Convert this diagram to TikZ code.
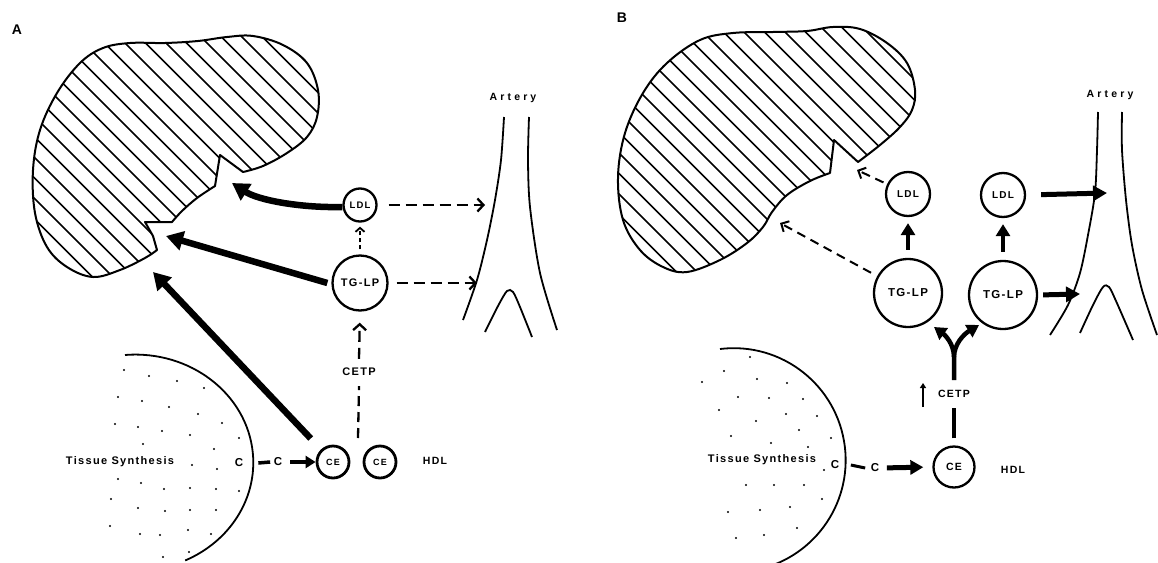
\documentclass[tikz,border=0pt]{standalone}
\usepackage{fontspec}
\usetikzlibrary{arrows.meta}
\newfontfamily\lblfont[LetterSpace=12]{Liberation Sans}
\newfontfamily\wideFont[LetterSpace=30]{Liberation Sans}
\newcommand\sz[1]{\fontsize{#1}{#1}\selectfont}

% outlines of the two livers (pixel-like units, y pointing down)
\def\liverApath{(243,172) -- (220,155) -- (215,186) -- plot[smooth,tension=0.6] coordinates {(215,186) (197,198) (182,211) (172,222)} -- (145,222) -- (153,236) -- (157,250) -- plot[smooth,tension=0.6] coordinates {(157,250) (145,258) (120,270) (93,277) (67,267) (47,247) (35,213) (33,170) (40,130) (57,93) (80,63) (103,48) (130,43) (165,43) (198,41) (227,37) (253,36) (283,45) (307,63) (318,90) (317,117) (307,137) (287,153) (263,166) (243,172)} -- cycle}
\def\liverBpath{(858,162) -- (834,140) -- (830,173) -- plot[smooth,tension=0.6] coordinates {(830,173) (810,181) (787,195) (772,212) (763,227) (747,243) (720,260) (687,272) (663,267) (640,250) (623,220) (618,177) (625,133) (643,93) (667,63) (700,40) (733,33) (773,32) (807,31) (833,27) (860,29) (887,43) (907,63) (915,90) (912,110) (900,127) (880,145) (858,162)} -- cycle}

\begin{document}
\begin{tikzpicture}[x=1pt, y=-1pt,
  txt/.style={inner sep=0pt, font={\lblfont\bfseries\sz{10.5}}},
  panel/.style={inner sep=0pt, font={\lblfont\bfseries\sz{14}}},
  vesseltxt/.style={inner sep=0pt, font={\wideFont\bfseries\sz{10.5}}},
  organ/.style={line width=2pt, line join=round},
  hatch/.style={line width=1.5pt},
  vessel/.style={line width=1.8pt},
  tissue/.style={line width=1.8pt},
  lp/.style={circle, draw, line width=2.3pt, inner sep=0pt, font={\lblfont\bfseries\sz{10.5}}},
  bigA/.style={line width=6.5pt, -{Triangle[length=17pt,width=19pt]}},
  smallA/.style={line width=4pt, -{Triangle[length=10pt,width=12pt]}},
  dashA/.style={line width=2.3pt, dash pattern=on 11pt off 6pt, -{Straight Barb[length=6pt,width=13pt]}},
  finedash/.style={line width=1.8pt, dash pattern=on 4pt off 3pt, -{Straight Barb[length=4pt,width=9pt]}},
  plainA/.style={line width=2.3pt, dash pattern=on 10pt off 6pt},
  solidB/.style={line width=4.5pt, -{Triangle[length=12pt,width=14pt]}},
  dashB/.style={line width=2pt, dash pattern=on 9pt off 6pt, -{Straight Barb[length=6pt,width=12pt]}},
  bar/.style={line width=3.5pt},
]
\useasboundingbox (0,0) rectangle (1158,562);

% ================= panel A =================
\node[panel] (labA) at (17,30) {A};

\begin{scope}
  \clip \liverApath;
  \foreach \c in {-205,-184.5,...,260} \draw[hatch] (\c-100,-100) -- (\c+500,500);
\end{scope}
\draw[organ] \liverApath;

% artery
\node[vesseltxt] (artA) at (513,98) {Artery};
\draw[vessel] plot[smooth] coordinates {(504,117) (501,160) (495,200) (487,240) (477,280) (463,320)};
\draw[vessel] plot[smooth] coordinates {(529,117) (528,160) (530,207) (540,273) (557,330)};
\draw[vessel] plot[smooth] coordinates {(485,332) (498,306) (507,291) (513,292) (520,307) (532,337)};

% tissue
\draw[tissue] (125,355) arc[start angle=-95, end angle=65, x radius=118, y radius=108];
\foreach \px/\py in {124/370,149/376,177/381,204/388,118/397,142/401,169/407,198/414,222/423,
  115/424,138/427,162/431,190/435,239/438,143/444,214/449,192/465,217/469,
  118/479,141/483,164/489,190/488,216/489,239/491,111/499,138/508,165/511,190/510,216/510,
  110/526,140/534,160/535,188/530,211/534,189/552,163/557}
  \fill (\px,\py) circle[radius=1.1pt];
\node[txt, font={\lblfont\bfseries\sz{11}}] (tisA) at (120,462) {Tissue Synthesis};
\node[txt, font={\lblfont\bfseries\sz{11.5}}] (cA1) at (239,463) {C};
\node[txt, font={\lblfont\bfseries\sz{11.5}}] (cA2) at (278,462) {C};

% lipoproteins
\node[lp, minimum size=33pt, font={\lblfont\bfseries\sz{9.5}}] (ldlA) at (360,205) {LDL};
\node[lp, minimum size=55pt, font={\lblfont\bfseries\sz{11}}] (tglpA) at (360,283) {TG-LP};
\node[lp, minimum size=32pt, line width=2.8pt, font={\lblfont\bfseries\sz{9}}] (ceA1) at (333,462) {CE};
\node[lp, minimum size=32pt, line width=2.8pt, font={\lblfont\bfseries\sz{9}}] (ceA2) at (380,462) {CE};
\node[txt] (hdlA) at (435,461) {HDL};
\node[txt, font={\lblfont\bfseries\sz{11}}] (cetpA) at (359,372) {CETP};

\coordinate (lA1) at (232,183);
\coordinate (lA2) at (166,236);
\coordinate (lA3) at (153,272);
\coordinate (aA1) at (485,205);
\coordinate (aA2) at (477,283);
\coordinate (hdlMid) at (358,438);

% connectors of panel A
\draw[bigA] ([yshift=-2pt]ldlA.west) .. controls (300,208) and (258,200) .. (lA1);
\draw[bigA] ([xshift=-4pt]tglpA.west) -- (lA2);
\draw[bigA, shorten <=15pt] (ceA1) -- (lA3);
\draw[dashA, shorten <=11pt] (ldlA.east) -- (aA1);
\draw[dashA, shorten <=8pt] (tglpA.east) -- (aA2);
\draw[finedash, shorten <=5pt, shorten >=4pt] (tglpA.north) -- (ldlA.south);
\draw[plainA] (hdlMid) -- ([yshift=-10pt]cetpA.south);
\draw[dashA, shorten >=11pt] ([yshift=9pt]cetpA.north) -- (tglpA.south);
\draw[bar] ([xshift=15pt]cA1.east) -- ([xshift=-3.5pt]cA2.west);
\draw[smallA, shorten <=8pt] (cA2.east) -- (ceA1.west);

% ================= panel B =================
\node[panel] (labB) at (622,18) {B};

\begin{scope}
  \clip \liverBpath;
  \foreach \c in {384,404.5,...,860} \draw[hatch] (\c-100,-100) -- (\c+500,500);
\end{scope}
\draw[organ] \liverBpath;

% artery
\node[vesseltxt] (artB) at (1110,95) {Artery};
\draw[vessel] plot[smooth] coordinates {(1098,112) (1097,150) (1095,193) (1088,235) (1080,273) (1068,305) (1050,335)};
\draw[vessel] plot[smooth] coordinates {(1122,112) (1122,150) (1126,200) (1132,245) (1142,290) (1157,335)};
\draw[vessel] plot[smooth] coordinates {(1080,333) (1093,305) (1103,287) (1109,287) (1116,301) (1133,340)};

% tissue
\draw[tissue] (720,349) arc[start angle=-97, end angle=80, radius=112];
\foreach \px/\py in {750/357,724/371,702/382,757/379,787/383,738/397,769/398,803/399,
  719/410,786/414,817/416,756/421,799/430,731/436,771/443,831/438,808/447,824/470,
  746/485,774/485,804/485,822/499,728/512,760/510,790/507,797/528,736/538,764/535}
  \fill (\px,\py) circle[radius=1.1pt];
\node[txt, font={\lblfont\bfseries\sz{11}}] (tisB) at (762,460) {Tissue Synthesis};
\node[txt, font={\lblfont\bfseries\sz{11.5}}] (cB1) at (835,465) {C};
\node[txt, font={\lblfont\bfseries\sz{11.5}}] (cB2) at (875,468) {C};

% lipoproteins
\node[lp, minimum size=44pt, font={\lblfont\bfseries\sz{10}}] (ldlB1) at (908,194) {LDL};
\node[lp, minimum size=44pt, font={\lblfont\bfseries\sz{10}}] (ldlB2) at (1003,195) {LDL};
\node[lp, minimum size=68pt, font={\lblfont\bfseries\sz{11.5}}] (tglpB1) at (908,293) {TG-LP};
\node[lp, minimum size=68pt, font={\lblfont\bfseries\sz{11.5}}] (tglpB2) at (1003,295) {TG-LP};
\node[lp, minimum size=41pt, font={\lblfont\bfseries\sz{10.5}}] (ceB) at (954,467) {CE};
\node[txt, font={\lblfont\bfseries\sz{10.5}}] (hdlB) at (1013,470) {HDL};
\node[txt, font={\lblfont\bfseries\sz{10.5}}] (cetpB) at (954,394) {CETP};

\coordinate (lB1) at (857,170);
\coordinate (lB2) at (780,223);
\coordinate (aB1) at (1107,193);
\coordinate (aB2) at (1080,294);
\coordinate (yJ) at (954,357);
\coordinate (upT) at (923,407);
\coordinate (upH) at (923,383);

% connectors of panel B
\draw[dashB, shorten <=4pt] (ldlB1) -- (lB1);
\draw[dashB, shorten <=7pt] (tglpB1) -- (lB2);
\draw[solidB, shorten <=8pt, shorten >=6pt] (tglpB1.north) -- (ldlB1.south);
\draw[solidB, shorten <=8pt, shorten >=6pt] (tglpB2.north) -- (ldlB2.south);
\draw[solidB, line width=5pt, -{Triangle[length=14pt,width=15pt]}, shorten <=15pt] (ldlB2.east) -- (aB1);
\draw[solidB, line width=5pt, -{Triangle[length=14pt,width=15pt]}, shorten <=5pt] (tglpB2.east) -- (aB2);
\draw[line width=4pt] ([yshift=7pt]ceB.north) -- ([yshift=-10pt]cetpB.south);
\draw[solidB, line width=4.5pt] ([yshift=10pt]cetpB.north) -- (yJ) .. controls (954,344) and (945,335) .. (934,327);
\draw[solidB, line width=4.5pt] (yJ) .. controls (954,344) and (964,334) .. (979,325);
\draw[line width=1.8pt, -{Triangle[length=5pt,width=6pt]}] (upT) -- (upH);
\draw[bar, line width=3pt] ([xshift=11.5pt]cB1.east) -- ([xshift=-5.5pt]cB2.west);
\draw[solidB, line width=5pt, -{Triangle[length=13pt,width=14pt]}, shorten <=7.5pt, shorten >=9pt] (cB2.east) -- (ceB.west);
\end{tikzpicture}
\end{document}
